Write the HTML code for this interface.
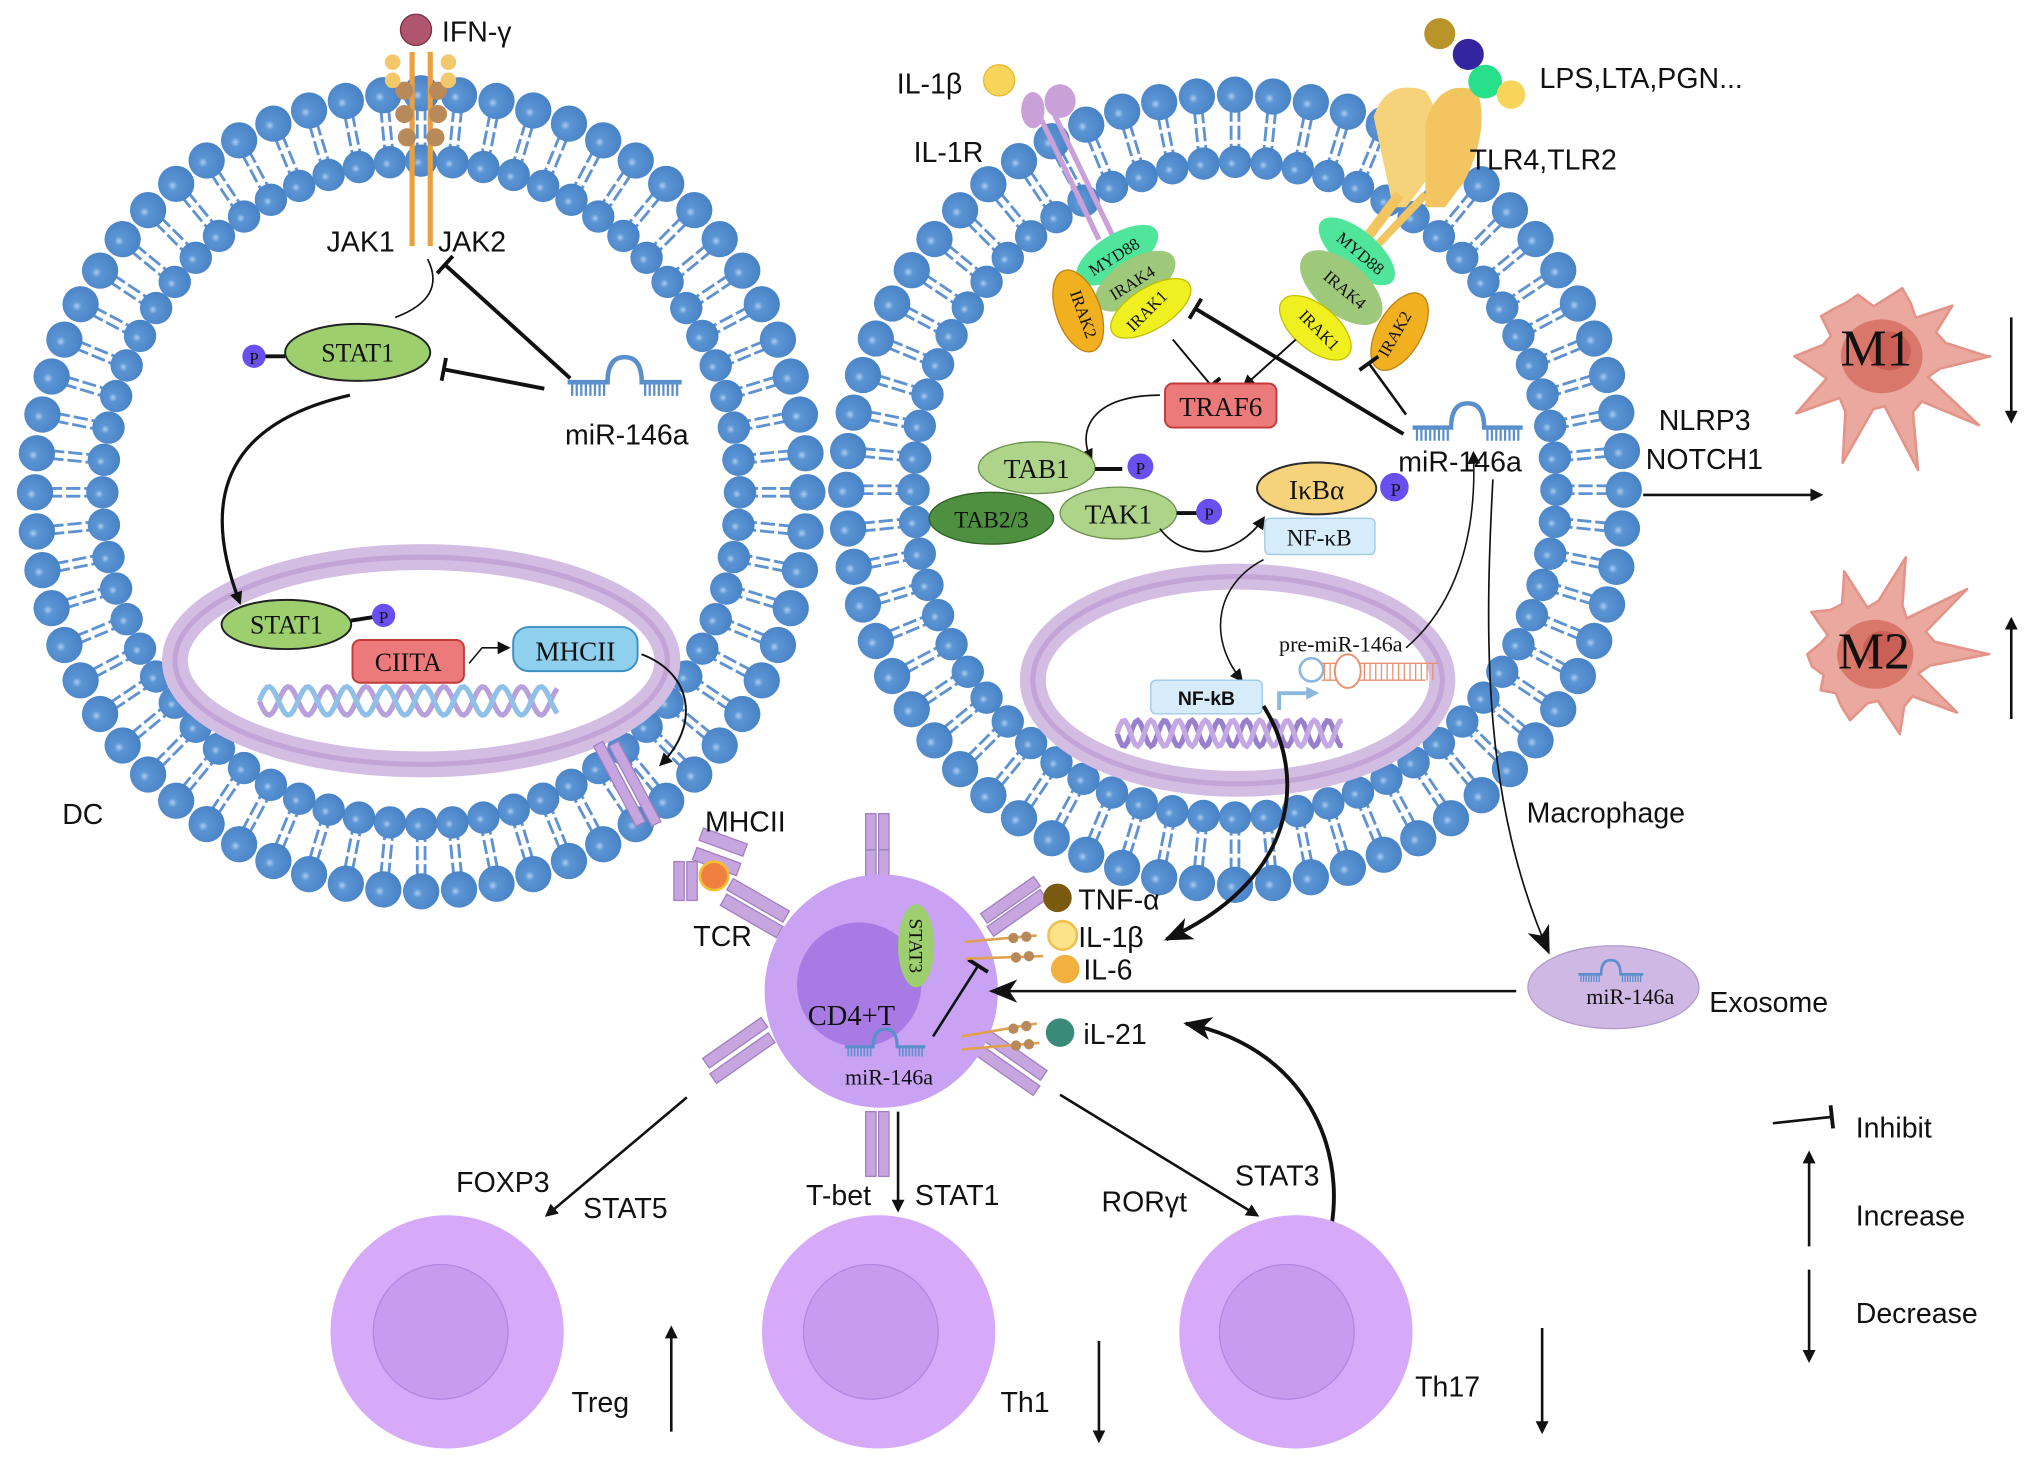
<!DOCTYPE html>
<html><head><meta charset="utf-8"><style>
html,body{margin:0;padding:0;background:#fff;}
svg{display:block;}
text{font-family:"Liberation Sans",sans-serif;fill:#111;}
.s{font-family:"Liberation Serif",serif;}
</style></head><body>
<svg id="sv" width="2032" height="1464" viewBox="0 0 1568 1130" preserveAspectRatio="none" xmlns="http://www.w3.org/2000/svg">
<defs>
<radialGradient id="ball" cx="0.4" cy="0.55" r="0.65"><stop offset="0" stop-color="#a9cdf0"/><stop offset="0.2" stop-color="#5c95d4"/><stop offset="1" stop-color="#4580c4"/></radialGradient>
<marker id="ar" markerWidth="10" markerHeight="10" refX="8" refY="5" orient="auto" markerUnits="userSpaceOnUse"><path d="M0,0 L10,5 L0,10 Z" fill="#111"/></marker>
<marker id="arb" markerWidth="22" markerHeight="18" refX="20" refY="9" orient="auto" markerUnits="userSpaceOnUse"><path d="M0,0 L22,9 L0,18 L6,9 Z" fill="#111"/></marker>
<marker id="tb" markerWidth="4" markerHeight="18" refX="2" refY="9" orient="auto" markerUnits="userSpaceOnUse"><rect x="0" y="0" width="3" height="18" fill="#111"/></marker>
</defs>
<g id="mem"></g>
<!-- nuclei -->
<ellipse cx="325" cy="510" rx="190" ry="80" fill="#fff" stroke="#d4bde3" stroke-width="20"/>
<ellipse cx="325" cy="510" rx="190" ry="80" fill="none" stroke="#c3a4d6" stroke-width="4" transform="translate(0,0)"/>
<ellipse cx="955" cy="525" rx="158" ry="80" fill="#fff" stroke="#d4bde3" stroke-width="20"/>
<ellipse cx="955" cy="525" rx="158" ry="80" fill="none" stroke="#c3a4d6" stroke-width="4"/>
<g id="dna"></g>
<!-- DC internals -->
<line x1="318" y1="40" x2="318" y2="190" stroke="#e9a040" stroke-width="4"/>
<line x1="332" y1="40" x2="332" y2="190" stroke="#e9a040" stroke-width="4"/>
<g fill="#b88a5a"><circle cx="312" cy="70" r="7"/><circle cx="338" cy="70" r="7"/><circle cx="312" cy="88" r="7"/><circle cx="338" cy="88" r="7"/><circle cx="314" cy="106" r="7"/><circle cx="336" cy="106" r="7"/></g>
<g fill="#f2c86a"><circle cx="303" cy="48" r="6"/><circle cx="346" cy="48" r="6"/><circle cx="303" cy="62" r="6"/><circle cx="346" cy="62" r="6"/></g>
<circle cx="321" cy="23" r="12" fill="#b0556e" stroke="#7a3040"/>
<text x="341" y="32" font-size="22">IFN-γ</text>
<text x="252" y="194" font-size="22">JAK1</text>
<text x="338" y="194" font-size="22">JAK2</text>
<path d="M330,200 Q345,230 305,245" fill="none" stroke="#111" stroke-width="1.3"/>
<line x1="440" y1="292" x2="343" y2="204" stroke="#111" stroke-width="3" marker-end="url(#tb)"/>
<line x1="420" y1="300" x2="342" y2="285" stroke="#111" stroke-width="3" marker-end="url(#tb)"/>
<ellipse cx="276" cy="272" rx="56" ry="22" fill="#9dcf6f" stroke="#222" stroke-width="1.5"/>
<text class="s" x="276" y="279" font-size="20" text-anchor="middle">STAT1</text>
<line x1="202" y1="275" x2="220" y2="275" stroke="#111" stroke-width="3"/>
<circle cx="196" cy="275" r="9" fill="#6a4ff0"/><text x="196" y="281" font-size="13" text-anchor="middle" class="s">P</text>
<g id="mir1"></g>
<text x="436" y="343" font-size="22">miR-146a</text>
<path d="M270,305 C160,330 160,400 185,465" fill="none" stroke="#111" stroke-width="2.5" marker-end="url(#ar)"/>
<ellipse cx="221" cy="482" rx="50" ry="19" fill="#9dcf6f" stroke="#222" stroke-width="1.5"/>
<text class="s" x="221" y="489" font-size="20" text-anchor="middle">STAT1</text>
<line x1="271" y1="479" x2="290" y2="476" stroke="#111" stroke-width="3"/>
<circle cx="296" cy="475" r="9" fill="#6a4ff0"/><text x="296" y="481" font-size="13" text-anchor="middle" class="s">P</text>
<rect x="272" y="494" width="86" height="33" rx="6" fill="#ec7a7a" stroke="#c23b3b" stroke-width="1.5"/>
<text class="s" x="315" y="518" font-size="20" text-anchor="middle">CIITA</text>
<path d="M362,512 L372,500 L392,500" fill="none" stroke="#111" stroke-width="1.2" marker-end="url(#ar)"/>
<rect x="396" y="484" width="96" height="34" rx="12" fill="#8fd0ef" stroke="#3d8fc0" stroke-width="1.5"/>
<text class="s" x="444" y="510" font-size="21" text-anchor="middle">MHCII</text>
<path d="M495,505 C535,520 540,560 510,590" fill="none" stroke="#111" stroke-width="1.5" marker-end="url(#ar)"/>
<text x="48" y="636" font-size="22">DC</text>
<!-- MHCII/TCR -->
<g fill="#c7a6e0" stroke="#a080c0" stroke-width="1">
<rect x="474" y="570" width="8" height="70" transform="rotate(-28 478 605)"/>
<rect x="486" y="570" width="8" height="70" transform="rotate(-28 490 605)"/>
<rect x="540" y="645" width="36" height="10" transform="rotate(20 558 650)"/>
<rect x="535" y="660" width="36" height="10" transform="rotate(20 553 665)"/>
<rect x="520" y="665" width="8" height="30"/><rect x="530" y="665" width="8" height="30"/>
<rect x="560" y="690" width="50" height="10" transform="rotate(30 585 695)"/>
<rect x="555" y="702" width="50" height="10" transform="rotate(30 580 707)"/>
</g>
<circle cx="551" cy="676" r="11" fill="#f08040" stroke="#f5c030" stroke-width="2"/>
<text x="544" y="642" font-size="22">MHCII</text>
<text x="535" y="730" font-size="22">TCR</text>
<!-- Macrophage internals -->
<line x1="800" y1="85" x2="848" y2="185" stroke="#c9a0d8" stroke-width="4"/>
<line x1="812" y1="85" x2="860" y2="185" stroke="#c9a0d8" stroke-width="4"/>
<ellipse cx="797" cy="85" rx="9" ry="14" fill="#c9a0d8"/><ellipse cx="818" cy="78" rx="12" ry="13" fill="#c9a0d8"/>
<text x="692" y="72" font-size="22">IL-1β</text>
<circle cx="771" cy="62" r="12" fill="#f7d55a" stroke="#e8b830"/>
<text x="705" y="125" font-size="22">IL-1R</text>
<path d="M1060,90 Q1070,60 1100,70 Q1120,100 1100,140 L1085,160 L1075,160 Z" fill="#f6d37a"/>
<path d="M1100,95 Q1110,60 1140,70 Q1150,100 1130,140 L1115,160 L1100,160 Z" fill="#f2c560"/>
<line x1="1080" y1="150" x2="1050" y2="190" stroke="#f2c560" stroke-width="8"/>
<line x1="1100" y1="150" x2="1062" y2="190" stroke="#f2c560" stroke-width="6"/>
<circle cx="1111" cy="26" r="12" fill="#b8942a"/><circle cx="1133" cy="42" r="12" fill="#3325a0"/><circle cx="1146" cy="63" r="13" fill="#27e08a"/><circle cx="1166" cy="73" r="11" fill="#f7d55a"/>
<text x="1188" y="68" font-size="22">LPS,LTA,PGN...</text>
<text x="1134" y="131" font-size="22">TLR4,TLR2</text>
<!-- complexes -->
<g class="s" font-size="13">
<ellipse cx="862" cy="197" rx="36" ry="16" fill="#4fe59a" transform="rotate(-32 862 197)"/><text x="862" y="202" text-anchor="middle" transform="rotate(-32 862 202)" font-size="13" class="s">MYD88</text>
<ellipse cx="876" cy="217" rx="35" ry="17" fill="#9ec87a" transform="rotate(-32 876 217)"/><text x="876" y="222" text-anchor="middle" transform="rotate(-32 876 222)" font-size="13" class="s">IRAK4</text>
<ellipse cx="832" cy="240" rx="17" ry="33" fill="#f0b020" stroke="#c08010" transform="rotate(-20 832 240)"/><text x="832" y="244" text-anchor="middle" transform="rotate(70 832 244)" font-size="13" class="s">IRAK2</text>
<ellipse cx="888" cy="238" rx="35" ry="16" fill="#f0f020" stroke="#c0c000" transform="rotate(-32 888 238)"/><text x="888" y="243" text-anchor="middle" transform="rotate(-45 888 243)" font-size="13" class="s">IRAK1</text>
<ellipse cx="1047" cy="194" rx="36" ry="16" fill="#4fe59a" transform="rotate(40 1047 194)"/><text x="1047" y="199" text-anchor="middle" transform="rotate(40 1047 199)" font-size="13" class="s">MYD88</text>
<ellipse cx="1035" cy="222" rx="38" ry="20" fill="#9ec87a" transform="rotate(40 1035 222)"/><text x="1035" y="227" text-anchor="middle" transform="rotate(40 1035 227)" font-size="13" class="s">IRAK4</text>
<ellipse cx="1015" cy="253" rx="33" ry="17" fill="#f0f020" stroke="#c0c000" transform="rotate(40 1015 253)"/><text x="1015" y="258" text-anchor="middle" transform="rotate(45 1015 258)" font-size="13" class="s">IRAK1</text>
<ellipse cx="1080" cy="256" rx="17" ry="33" fill="#f0b020" stroke="#c08010" transform="rotate(30 1080 256)"/><text x="1080" y="260" text-anchor="middle" transform="rotate(-60 1080 260)" font-size="13" class="s">IRAK2</text>
</g>
<line x1="905" y1="262" x2="935" y2="298" stroke="#111" stroke-width="1.5" marker-end="url(#tb)"/>
<line x1="1000" y1="262" x2="960" y2="298" stroke="#111" stroke-width="1.5" marker-end="url(#ar)"/>
<line x1="1083" y1="335" x2="922" y2="238" stroke="#111" stroke-width="3" marker-end="url(#tb)"/>
<line x1="1085" y1="320" x2="1056" y2="280" stroke="#111" stroke-width="2" marker-end="url(#tb)"/>
<rect x="899" y="296" width="86" height="34" rx="6" fill="#ec7a7a" stroke="#c23b3b" stroke-width="1.5"/>
<text class="s" x="942" y="321" font-size="21" text-anchor="middle">TRAF6</text>
<path d="M895,305 C845,305 830,330 842,355" fill="none" stroke="#111" stroke-width="1.3" marker-end="url(#ar)"/>
<ellipse cx="765" cy="400" rx="48" ry="20" fill="#4f9040" stroke="#2f6020" stroke-width="1"/>
<text class="s" x="765" y="407" font-size="18" text-anchor="middle">TAB2/3</text>
<ellipse cx="800" cy="361" rx="45" ry="20" fill="#aed48a" stroke="#6a9050" stroke-width="1"/>
<text class="s" x="800" y="369" font-size="21" text-anchor="middle">TAB1</text>
<line x1="845" y1="362" x2="866" y2="362" stroke="#111" stroke-width="3"/>
<circle cx="880" cy="360" r="10" fill="#6a4ff0"/><text x="880" y="366" font-size="13" text-anchor="middle" class="s">P</text>
<ellipse cx="863" cy="396" rx="45" ry="20" fill="#aed48a" stroke="#6a9050" stroke-width="1"/>
<text class="s" x="863" y="404" font-size="21" text-anchor="middle">TAK1</text>
<line x1="908" y1="396" x2="924" y2="396" stroke="#111" stroke-width="3"/>
<circle cx="933" cy="395" r="10" fill="#6a4ff0"/><text x="933" y="401" font-size="13" text-anchor="middle" class="s">P</text>
<path d="M895,408 C915,435 955,430 975,400" fill="none" stroke="#111" stroke-width="1.3" marker-end="url(#ar)"/>
<ellipse cx="1016" cy="377" rx="46" ry="20" fill="#f6d27a" stroke="#2a2a2a" stroke-width="1.5"/>
<text class="s" x="1016" y="385" font-size="21" text-anchor="middle">IκBα</text>
<circle cx="1076" cy="376" r="11" fill="#6a4ff0"/><text x="1077" y="383" font-size="14" text-anchor="middle" class="s">P</text>
<rect x="976" y="400" width="85" height="28" rx="4" fill="#d6ecfa" stroke="#9cc8e8"/>
<text class="s" x="1018" y="421" font-size="18" text-anchor="middle">NF-κB</text>
<g id="mir2"></g>
<text x="1079" y="364" font-size="22">miR-146a</text>
<text x="1280" y="332" font-size="22">NLRP3</text>
<text x="1270" y="362" font-size="22">NOTCH1</text>
<line x1="1268" y1="382" x2="1405" y2="382" stroke="#111" stroke-width="2" marker-end="url(#ar)"/>
<path d="M975,432 C940,450 930,490 958,525" fill="none" stroke="#111" stroke-width="1.2" marker-end="url(#ar)"/>
<path d="M1085,500 C1120,470 1140,420 1137,350" fill="none" stroke="#111" stroke-width="1.2" marker-end="url(#ar)"/>
<rect x="888" y="525" width="86" height="26" rx="4" fill="#d6ecfa" stroke="#9cc8e8"/>
<text x="931" y="544" font-size="15" font-weight="bold" text-anchor="middle" fill="#334">NF-kB</text>
<path d="M987,548 L987,535 L1010,535" fill="none" stroke="#8ab8e0" stroke-width="3"/>
<path d="M1008,530 L1018,535 L1008,540Z" fill="#8ab8e0"/>
<text class="s" x="987" y="503" font-size="17">pre-miR-146a</text>
<circle cx="1012" cy="517" r="9" fill="none" stroke="#8ab8e0" stroke-width="2"/>
<g stroke="#e89070" stroke-width="1">
<line x1="1020" y1="512" x2="1110" y2="512"/><line x1="1020" y1="525" x2="1100" y2="525"/>
</g>
<g id="hair"></g>
<ellipse cx="1040" cy="518" rx="10" ry="13" fill="#fff" stroke="#e89070" stroke-width="1.5"/>
<path d="M975,545 C1010,600 1000,680 900,725" fill="none" stroke="#111" stroke-width="3" marker-end="url(#arb)"/>
<path d="M1152,370 C1145,500 1145,620 1195,735" fill="none" stroke="#111" stroke-width="1.3" marker-end="url(#arb)"/>
<text x="1178" y="635" font-size="22">Macrophage</text>
<!-- T cell -->
<g fill="#c7a6e0" stroke="#a080c0" stroke-width="1">
<rect x="668" y="628" width="8" height="28"/><rect x="678" y="628" width="8" height="28"/><rect x="668" y="656" width="8" height="20"/><rect x="678" y="656" width="8" height="20"/>
<rect x="668" y="858" width="8" height="50"/><rect x="678" y="858" width="8" height="50"/>
<rect x="755" y="690" width="50" height="9" transform="rotate(-35 780 695)"/><rect x="760" y="700" width="50" height="9" transform="rotate(-35 785 705)"/>
<rect x="540" y="800" width="55" height="9" transform="rotate(-35 568 805)"/><rect x="545" y="812" width="55" height="9" transform="rotate(-35 573 816)"/>
<rect x="755" y="810" width="55" height="9" transform="rotate(35 783 815)"/><rect x="750" y="822" width="55" height="9" transform="rotate(35 778 826)"/>
</g>
<circle cx="680" cy="765" r="90" fill="#c9a2f4"/>
<circle cx="663" cy="760" r="48" fill="#a77ae4"/>
<ellipse cx="707" cy="730" rx="14" ry="32" fill="#9dcf6f"/>
<text class="s" x="707" y="735" font-size="15" text-anchor="middle" transform="rotate(90 707 730)">STAT3</text>
<text class="s" x="657" y="791" font-size="22" text-anchor="middle">CD4+T</text>
<g id="mir3"></g>
<text class="s" x="686" y="837" font-size="17" text-anchor="middle">miR-146a</text>
<line x1="720" y1="800" x2="755" y2="745" stroke="#111" stroke-width="2" marker-end="url(#tb)"/>
<g stroke="#e0a050" stroke-width="2"><line x1="745" y1="727" x2="800" y2="722"/><line x1="745" y1="740" x2="805" y2="738"/><line x1="742" y1="800" x2="800" y2="790"/><line x1="742" y1="810" x2="802" y2="805"/></g>
<g fill="#b88a5a"><circle cx="782" cy="724" r="4"/><circle cx="792" cy="723" r="4"/><circle cx="784" cy="739" r="4"/><circle cx="794" cy="738" r="4"/><circle cx="782" cy="794" r="4"/><circle cx="792" cy="792" r="4"/><circle cx="784" cy="807" r="4"/><circle cx="794" cy="806" r="4"/></g>
<circle cx="816" cy="693" r="11" fill="#7a5a10"/><text x="832" y="702" font-size="22">TNF-α</text>
<circle cx="820" cy="722" r="11" fill="#fbe38a" stroke="#f2c050" stroke-width="2"/><text x="832" y="731" font-size="22">IL-1β</text>
<circle cx="822" cy="748" r="11" fill="#f2b040"/><text x="836" y="756" font-size="22">IL-6</text>
<circle cx="818" cy="797" r="11" fill="#3a8a7a"/><text x="836" y="806" font-size="22">iL-21</text>
<line x1="1170" y1="765" x2="765" y2="765" stroke="#111" stroke-width="2" marker-end="url(#arb)"/>
<ellipse cx="1245" cy="762" rx="66" ry="32" fill="#cfb8e4" stroke="#b09cc8"/>
<g id="mir4"></g>
<text class="s" x="1258" y="775" font-size="17" text-anchor="middle">miR-146a</text>
<text x="1319" y="781" font-size="22">Exosome</text>
<path d="M1022,968 C1045,900 1015,810 915,790" fill="none" stroke="#111" stroke-width="3" marker-end="url(#arb)"/>
<!-- bottom cells -->
<line x1="530" y1="847" x2="422" y2="938" stroke="#111" stroke-width="2" marker-end="url(#ar)"/>
<line x1="693" y1="858" x2="693" y2="934" stroke="#111" stroke-width="2" marker-end="url(#ar)"/>
<line x1="818" y1="845" x2="970" y2="938" stroke="#111" stroke-width="2" marker-end="url(#ar)"/>
<text x="352" y="920" font-size="22">FOXP3</text><text x="450" y="940" font-size="22">STAT5</text>
<text x="622" y="930" font-size="22">T-bet</text><text x="706" y="930" font-size="22">STAT1</text>
<text x="850" y="935" font-size="22">RORγt</text><text x="953" y="915" font-size="22">STAT3</text>
<g>
<circle cx="345" cy="1028" r="90" fill="#d6aaf8"/><circle cx="340" cy="1028" r="52" fill="#c99aee" stroke="#b585e0"/>
<circle cx="678" cy="1028" r="90" fill="#d6aaf8"/><circle cx="672" cy="1028" r="52" fill="#c99aee" stroke="#b585e0"/>
<circle cx="1000" cy="1028" r="90" fill="#d6aaf8"/><circle cx="993" cy="1028" r="52" fill="#c99aee" stroke="#b585e0"/>
</g>
<text x="441" y="1090" font-size="22">Treg</text>
<text x="772" y="1090" font-size="22">Th1</text>
<text x="1092" y="1078" font-size="22">Th17</text>
<line x1="518" y1="1105" x2="518" y2="1025" stroke="#111" stroke-width="2" marker-end="url(#ar)"/>
<line x1="848" y1="1035" x2="848" y2="1112" stroke="#111" stroke-width="2" marker-end="url(#ar)"/>
<line x1="1190" y1="1025" x2="1190" y2="1105" stroke="#111" stroke-width="2" marker-end="url(#ar)"/>
<!-- M1/M2 -->
<g id="mac"></g>
<text class="s" x="1448" y="282" font-size="40" text-anchor="middle">M1</text>
<text class="s" x="1446" y="516" font-size="40" text-anchor="middle">M2</text>
<line x1="1552" y1="245" x2="1552" y2="325" stroke="#111" stroke-width="2" marker-end="url(#ar)"/>
<line x1="1552" y1="555" x2="1552" y2="478" stroke="#111" stroke-width="2" marker-end="url(#ar)"/>
<!-- legend -->
<line x1="1368" y1="867" x2="1414" y2="862" stroke="#111" stroke-width="2" marker-end="url(#tb)"/>
<text x="1432" y="878" font-size="22">Inhibit</text>
<line x1="1396" y1="962" x2="1396" y2="890" stroke="#111" stroke-width="2" marker-end="url(#ar)"/>
<text x="1432" y="946" font-size="22">Increase</text>
<line x1="1396" y1="980" x2="1396" y2="1050" stroke="#111" stroke-width="2" marker-end="url(#ar)"/>
<text x="1432" y="1021" font-size="22">Decrease</text>
</svg>
<script>
var NS="http://www.w3.org/2000/svg";
function el(p,t,a){var e=document.createElementNS(NS,t);for(var k in a)e.setAttribute(k,a[k]);p.appendChild(e);return e;}
var mem=document.getElementById("mem");
function membrane(cx,cy,rx,ry,n){
  var balls=[];
  for(var i=0;i<n;i++){
    var a=i/n*2*Math.PI;
    var c=Math.cos(a),s=Math.sin(a);
    var ox=cx+rx*c,oy=cy+ry*s,ix=cx+(rx-52)*c,iy=cy+(ry-52)*s;
    var mx1=cx+(rx-10)*c,my1=cy+(ry-10)*s,mx2=cx+(rx-42)*c,my2=cy+(ry-42)*s;
    var px=-s*3,py=c*3;
    el(mem,"line",{x1:mx1+px,y1:my1+py,x2:mx2+px,y2:my2+py,stroke:"#5f92d0","stroke-width":2.2,"stroke-dasharray":"11 3"});
    el(mem,"line",{x1:mx1-px,y1:my1-py,x2:mx2-px,y2:my2-py,stroke:"#5f92d0","stroke-width":2.2,"stroke-dasharray":"11 3"});
    balls.push([ox,oy,14],[ix,iy,12.5]);
  }
  balls.forEach(function(b){el(mem,"circle",{cx:b[0],cy:b[1],r:b[2],fill:"url(#ball)"});});
}
membrane(325,380,298,308,64);
membrane(953,378,300,305,64);
function mir(id,x,y,sc,col){
  var g=document.getElementById(id);g.setAttribute("transform","translate("+x+","+y+") scale("+sc+")");
  el(g,"path",{d:"M0,0 L35,0 Q35,-22 50,-22 Q65,-22 65,0 L100,0",fill:"none",stroke:col,"stroke-width":4});
  for(var i=0;i<8;i++){el(g,"line",{x1:4+i*4,y1:0,x2:4+i*4,y2:12,stroke:col,"stroke-width":2});el(g,"line",{x1:68+i*4,y1:0,x2:68+i*4,y2:12,stroke:col,"stroke-width":2});}
}
mir("mir1",438,295,0.88,"#5b8fcc");
mir("mir2",1090,330,0.85,"#5b8fcc");
mir("mir3",652,808,0.62,"#5b8fcc");
mir("mir4",1218,752,0.5,"#5b8fcc");
var h=document.getElementById("hair");
for(var i=0;i<20;i++){el(h,"line",{x1:1022+i*4.4,y1:512,x2:1022+i*4.4,y2:525,stroke:"#e89070","stroke-width":1});}
var dna=document.getElementById("dna");
function helix(x0,y0,len,amp,col1,col2,per){
  var d1="",d2="";
  for(var x=0;x<=len;x+=2){var y=amp*Math.sin(x/per*2*Math.PI);d1+=(x?"L":"M")+(x0+x)+","+(y0+y);d2+=(x?"L":"M")+(x0+x)+","+(y0-y);}
  el(dna,"path",{d:d1,fill:"none",stroke:col1,"stroke-width":4});
  el(dna,"path",{d:d2,fill:"none",stroke:col2,"stroke-width":4});
}
helix(200,541,230,11,"#b8a0dc","#8fc0e8",30);
helix(862,566,175,10,"#9a80cc","#c4a8e4",21);
var mac=document.getElementById("mac");
function blob(cx,cy,r,seed){
  var d="";var n=30;
  for(var i=0;i<=n;i++){var a=i/n*2*Math.PI;var rr=r*(i%3==0?(1.0+0.3*Math.sin(i*2.3+seed)):(0.62+0.08*Math.cos(i*1.3)));d+=(i?"L":"M")+(cx+rr*Math.cos(a))+","+(cy+rr*0.95*Math.sin(a));}
  el(mac,"path",{d:d+"Z",fill:"#eaa89e",stroke:"#e39488","stroke-width":2,"stroke-linejoin":"round"});
  el(mac,"ellipse",{cx:cx+2,cy:cy,rx:r*0.42,ry:r*0.38,fill:"#d9776a"});
  el(mac,"ellipse",{cx:cx+8,cy:cy-4,rx:r*0.22,ry:r*0.2,fill:"#c95f55"});
}
blob(1450,275,75,0.5);
blob(1445,505,70,2);
</script>
</body></html>
